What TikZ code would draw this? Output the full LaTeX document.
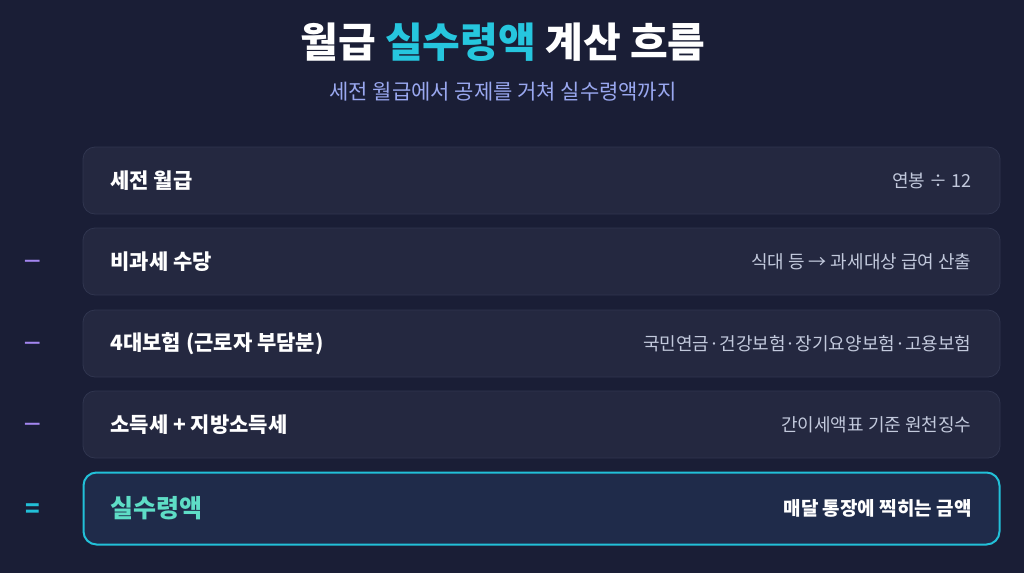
\documentclass[tikz,border=0pt]{standalone}
\usepackage{fontspec}
\setmainfont{Noto Sans CJK KR}
\definecolor{bgdark}{HTML}{1A1E36}
\definecolor{boxfill}{HTML}{242840}
\definecolor{boxline}{HTML}{30354F}
\definecolor{resfill}{HTML}{1F2B4A}
\definecolor{cyanline}{HTML}{22C0D8}
\definecolor{titlecyan}{HTML}{26C6DE}
\definecolor{subtxt}{HTML}{9AA8F0}
\definecolor{notetxt}{HTML}{C2C9DC}
\definecolor{minuscol}{HTML}{A486F0}
\definecolor{resgreen}{HTML}{5EDDC6}
\tikzset{
  stepbox/.style={draw=boxline, fill=boxfill, line width=0.8pt, rounded corners=12pt,
    minimum width=917pt, minimum height=67pt},
  resbox/.style={draw=cyanline, fill=resfill, line width=2pt, rounded corners=13pt,
    minimum width=916pt, minimum height=72pt},
  lefttxt/.style={anchor=west, text=white, font=\fontsize{21}{24}\selectfont\bfseries},
  righttxt/.style={anchor=east, text=notetxt, font=\fontsize{18}{21}\selectfont},
  signtxt/.style={text=minuscol, font=\fontsize{18}{20}\selectfont\bfseries}
}
\begin{document}
\begin{tikzpicture}[x=1pt,y=-1pt]
\fill[bgdark] (0,0) rectangle (1024,573);
\useasboundingbox (0,0) rectangle (1024,573);

% title
\node (title) at (503,42) {\fontsize{41}{46}\selectfont\bfseries\color{white}월급 \color{titlecyan}실수령액\color{white}{} 계산 흐름};
\node (sub) at (503,92) {\fontsize{21}{24}\selectfont\color{subtxt}세전 월급에서 공제를 거쳐 실수령액까지};

% steps
\node[stepbox] (gross) at (541.5,180.5) {};
\node[lefttxt] (grossl) at (107,180.5) {세전 월급};
\node[righttxt] (grossr) at (975,180.5) {연봉 ÷ 12};

\node[stepbox] (free) at (541.5,261.5) {};
\node[lefttxt] (freel) at (107,261.5) {비과세 수당};
\node[righttxt] (freer) at (975,261.5) {식대 등 → 과세대상 급여 산출};
\node[signtxt] (m1) at (32.5,263.5) {—};

\node[stepbox] (ins) at (541.5,343.5) {};
\node[lefttxt] (insl) at (107,343.5) {4대보험 (근로자 부담분)};
\node[righttxt] (insr) at (975,343.5) {국민연금·건강보험·장기요양보험·고용보험};
\node[signtxt] (m2) at (32.5,345.5) {—};

\node[stepbox] (tax) at (541.5,424.5) {};
\node[lefttxt] (taxl) at (107,424.5) {소득세 + 지방소득세};
\node[righttxt] (taxr) at (975,424.5) {간이세액표 기준 원천징수};
\node[signtxt] (m3) at (32.5,426.5) {—};

% result
\node[resbox] (net) at (541.5,508.5) {};
\node[lefttxt, text=resgreen, font=\fontsize{25}{28}\selectfont\bfseries] (netl) at (107,508.5) {실수령액};
\node[righttxt, text=white, font=\fontsize{19}{22}\selectfont\bfseries] (netr) at (975,508.5) {매달 통장에 찍히는 금액};
\node[signtxt, text=cyanline, font=\fontsize{24}{28}\selectfont\bfseries] (eq) at (32.5,511) {=};

\end{tikzpicture}
\end{document}
